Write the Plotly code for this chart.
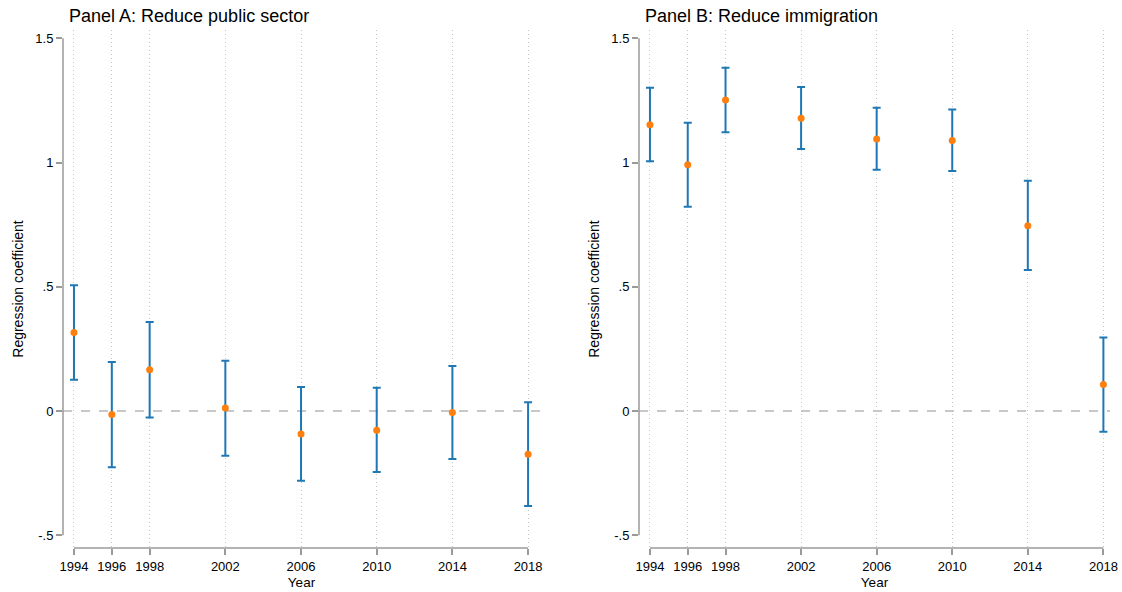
import plotly.graph_objects as go

years = [1994, 1996, 1998, 2002, 2006, 2010, 2014, 2018]
year_labels = ["1994", "1996", "1998", "2002", "2006", "2010", "2014", "2018"]

# Panel A: Reduce public sector
coef_a = [0.316, -0.014, 0.166, 0.012, -0.093, -0.077, -0.006, -0.174]
upper_a = [0.506, 0.197, 0.358, 0.202, 0.097, 0.094, 0.181, 0.035]
lower_a = [0.126, -0.226, -0.026, -0.180, -0.281, -0.245, -0.193, -0.382]

# Panel B: Reduce immigration
coef_b = [1.152, 0.991, 1.252, 1.178, 1.095, 1.089, 0.745, 0.107]
upper_b = [1.301, 1.160, 1.381, 1.304, 1.220, 1.213, 0.927, 0.296]
lower_b = [1.005, 0.822, 1.122, 1.054, 0.971, 0.966, 0.567, -0.084]

y_tickvals = [-0.5, 0, 0.5, 1, 1.5]
y_ticktext = ["-.5", "0", ".5", "1", "1.5"]

W, H = 1122, 592
FONT = "Liberation Sans, Arial, Helvetica, sans-serif"
BLUE = "#1f77b4"
ORANGE = "#ff7f0e"
AXIS = "#9a9a9a"

fig = go.Figure()

panels = [
    ("Panel A: Reduce public sector", coef_a, upper_a, lower_a, (63, 540), (1993.42, 2018.63)),
    ("Panel B: Reduce immigration", coef_b, upper_b, lower_b, (639, 1110), (1993.42, 2018.35)),
]

top_px, bot_px = 30, 548
yrange = [(411 - bot_px) / 248.5, (411 - top_px) / 248.5]
ydom = [(H - bot_px) / H, (H - top_px) / H]

for i, (title, coef, up, lo, (x0, x1), xr) in enumerate(panels):
    n = "" if i == 0 else str(i + 1)
    xa, ya = "x" + n, "y" + n
    plus = [u - c for u, c in zip(up, coef)]
    minus = [c - l for c, l in zip(coef, lo)]
    fig.add_trace(go.Scatter(
        x=years, y=coef, mode="markers", xaxis=xa, yaxis=ya,
        marker=dict(color=ORANGE, size=7),
        error_y=dict(type="data", symmetric=False, array=plus, arrayminus=minus,
                     color=BLUE, thickness=2, width=4),
        showlegend=False,
    ))
    fig.layout["xaxis" + n] = dict(
        domain=[x0 / W, x1 / W], range=list(xr), anchor=ya, automargin=False,
        tickvals=years, ticktext=year_labels,
        showgrid=True, gridcolor="#c4c4c4", griddash="1px,3px", gridwidth=1,
        showline=False, zeroline=False,
        ticks="outside", ticklen=6, tickcolor=AXIS, tickwidth=1.5,
        tickfont=dict(size=13, color="black", family=FONT),
        title=dict(text="Year", font=dict(size=13.5, color="black", family=FONT), standoff=4),
    )
    fig.layout["yaxis" + n] = dict(
        domain=ydom, range=yrange, anchor=xa, automargin=False,
        tickvals=y_tickvals, ticktext=y_ticktext,
        showgrid=False, showline=False, zeroline=False,
        ticks="outside", ticklen=6, tickcolor=AXIS, tickwidth=1.5,
        tickfont=dict(size=13, color="black", family=FONT),
        title=dict(text="Regression coefficient", font=dict(size=14, color="black", family=FONT), standoff=8),
    )
    # zero reference line
    fig.add_shape(type="line", xref=xa + " domain", yref=ya, x0=0, x1=1, y0=0, y1=0,
                  line=dict(color="#c8c8c8", width=2, dash="dash"), layer="below")
    # y axis line spanning tick range
    fig.add_shape(type="line", xref=xa + " domain", yref=ya, x0=0, x1=0, y0=-0.5, y1=1.5,
                  line=dict(color=AXIS, width=1.5), layer="above")
    # x axis line spanning first to last year
    fig.add_shape(type="line", xref=xa, yref=ya + " domain", x0=years[0], x1=years[-1], y0=0, y1=0,
                  line=dict(color=AXIS, width=1.5), layer="above")
    fig.add_annotation(text=title, xref="paper", yref="paper",
                       x=(x0 + 4) / W, y=(H - 16) / H, xanchor="left", yanchor="middle",
                       showarrow=False, font=dict(size=18, color="black", family=FONT))

fig.update_layout(
    width=W, height=H, margin=dict(l=0, r=0, t=0, b=0),
    paper_bgcolor="white", plot_bgcolor="white",
    font=dict(family=FONT),
)

fig.write_html("out.html", config={"displayModeBar": False},
               post_script="document.body.style.margin='0';document.body.style.padding='0';")
